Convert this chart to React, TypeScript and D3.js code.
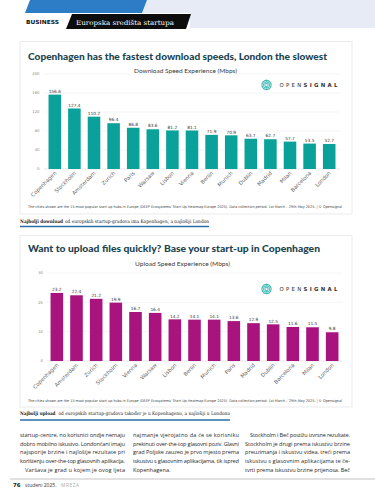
import React from 'react';
import * as d3 from 'd3';

const dlCities = ['Copenhagen', 'Stockholm', 'Amsterdam', 'Zurich', 'Paris', 'Warsaw', 'Lisbon', 'Vienna', 'Berlin', 'Munich', 'Dublin', 'Madrid', 'Milan', 'Barcelona', 'London'];
const dlValues = [156.6, 127.4, 110.2, 96.4, 86.8, 83.6, 81.2, 81.1, 71.9, 70.9, 63.7, 62.7, 57.7, 53.5, 52.7];
const dlTicks = [0, 40, 80, 120, 160, 200];

const ulCities = ['Copenhagen', 'Amsterdam', 'Zurich', 'Stockholm', 'Vienna', 'Warsaw', 'Lisbon', 'Berlin', 'Munich', 'Paris', 'Madrid', 'Dublin', 'Barcelona', 'Milan', 'London'];
const ulValues = [23.2, 22.4, 21.2, 19.9, 16.7, 16.4, 14.2, 14.1, 14.1, 13.6, 12.9, 12.5, 11.6, 11.5, 9.8];
const ulTicks = [0, 10, 20, 30];

const footnote = "The cities shown are the 15 most popular start-up hubs in Europe (DEEP Ecosystems' Start Up Heatmap Europe 2025). Data collection period: 1st March \u2013 29th May 2025. | \u00A9 Opensignal";

const col1 = [
  'startup-centre, no korisnici ondje nemaju',
  'dobro mobilno iskustvo. Londončani imaju',
  'najsporije brzine i najlošije rezultate pri',
  'korištenju over-the-top glasovnih aplikacija.',
  'Varšava je grad u kojem je ovog ljeta',
];
const col2 = [
  'najmanje vjerojatno da će se korisniku',
  'prekinuti over-the-top glasovni poziv. Glavni',
  'grad Poljske zauzeo je prvo mjesto prema',
  'iskustvu s glasovnim aplikacijama, tik ispred',
  'Kopenhagena.',
];
const col3 = [
  'Stockholm i Beč postižu izvrsne rezultate.',
  'Stockholm je drugi prema iskustvu brzine',
  'preuzimanja i iskustvu videa, treći prema',
  'iskustvu s glasovnim aplikacijama te če-',
  'tvrti prema iskustvu brzine prijenosa. Beč',
];

const TITLE = '#1c4451';
const SANS = "'DejaVu Sans', sans-serif";
const SERIF = "'DejaVu Serif', serif";

function Logo({ x, y }: { x: number; y: number }) {
  const arc = (r: number) =>
    d3.arc()({ innerRadius: r, outerRadius: r, startAngle: Math.PI * 0.8, endAngle: Math.PI * 3.2 }) as string;
  return (
    <g transform={`translate(${x},${y})`}>
      {[4.6, 3.1, 1.6].map((r, i) => (
        <path key={i} d={arc(r)} fill="none" stroke={i === 0 ? '#3fb8b3' : '#5cc4bf'} strokeWidth={1.1} />
      ))}
      <circle cx={0} cy={2.2} r={0.9} fill="#3fb8b3" />
      <text x={13} y={2} fontFamily={SANS} fontSize={5.4} fill="#333" textLength={58} lengthAdjust="spacing">
        <tspan>OPEN</tspan>
        <tspan fontWeight="bold">SIGNAL</tspan>
      </text>
    </g>
  );
}

type ChartProps = {
  top: number; bottom: number;
  title: string; titleW: number; titleY: number;
  subtitle: string; subX: number; subW: number; subY: number;
  cities: string[]; values: number[]; ticks: number[];
  y0: number; yTop: number; x0: number; x1: number;
  gridX0: number; gridX1: number; tickX: number;
  color: string; logoY: number; noteY: number;
};

function Chart(p: ChartProps) {
  const x = d3.scaleBand<string>().domain(p.cities).range([p.x0, p.x1]).paddingInner(0.36).paddingOuter(0.18);
  const y = d3.scaleLinear().domain([0, p.ticks[p.ticks.length - 1]]).range([p.y0, p.yTop]);
  return (
    <g>
      <rect x={20} y={p.top} width={332} height={p.bottom - p.top} fill="#fff" stroke="#e6e6e6" strokeWidth={0.8} />
      <text x={28} y={p.titleY} fontFamily="Lato, sans-serif" fontWeight={900} fontSize={9.6} fill={TITLE}
        textLength={p.titleW} lengthAdjust="spacingAndGlyphs">{p.title}</text>
      <text x={p.subX} y={p.subY} fontFamily="Lato, sans-serif" fontWeight={400} fontSize={5.3} fill="#3a3a3a"
        textLength={p.subW} lengthAdjust="spacingAndGlyphs">{p.subtitle}</text>
      {p.ticks.map((t) => (
        <g key={t}>
          <line x1={p.gridX0} x2={p.gridX1} y1={y(t)} y2={y(t)} stroke={t === 0 ? '#d9d9d9' : '#efefef'} strokeWidth={0.6} />
          <text x={p.tickX} y={y(t) + 1.4} textAnchor="end" fontFamily={SANS} fontSize={3.8} fill="#888">{t}</text>
        </g>
      ))}
      <Logo x={266.5} y={p.logoY} />
      {p.cities.map((c, i) => {
        const bx = x(c) as number;
        const cx = bx + x.bandwidth() / 2;
        return (
          <g key={c}>
            <rect x={bx} y={y(p.values[i])} width={x.bandwidth()} height={p.y0 - y(p.values[i])} fill={p.color} />
            <text x={cx} y={y(p.values[i]) - 1.8} textAnchor="middle" fontFamily={SANS} fontSize={4.3} fill="#333">
              {p.values[i].toFixed(1)}
            </text>
            <text transform={`translate(${cx + 2},${p.y0 + 4.5}) rotate(-45)`} textAnchor="end" fontFamily={SANS}
              fontSize={5.3} fill="#666">{c}</text>
          </g>
        );
      })}
      <text x={28} y={p.noteY} fontFamily={SANS} fontSize={3.6} fill="#444" textLength={314}
        lengthAdjust="spacingAndGlyphs">{footnote}</text>
    </g>
  );
}

function Column({ lines, x, w, y0, indent }: { lines: string[]; x: number; w: number; y0: number; indent: number[] }) {
  return (
    <g>
      {lines.map((l, i) => {
        const last = i === lines.length - 1 && l.length < 20;
        const ind = indent.includes(i) ? 5 : 0;
        return (
          <text key={i} x={x + ind} y={y0 + i * 8.7} fontFamily="'Open Sans', sans-serif" fontSize={5.6} fill="#2b2b2b"
            {...(last ? {} : { textLength: w - ind, lengthAdjust: 'spacing' })}>{l}</text>
        );
      })}
    </g>
  );
}

function Caption({ bold, rest, y, boldW, restX, restW }: { bold: string; rest: string; y: number; boldW: number; restX: number; restW: number }) {
  return (
    <g>
      <text x={20} y={y} fontFamily={SERIF} fontWeight="bold" fontSize={4.9} fill="#1a1a1a" textLength={boldW}
        lengthAdjust="spacingAndGlyphs">{bold}</text>
      <text x={restX} y={y} fontFamily={SERIF} fontSize={4.9} fill="#222" textLength={restW}
        lengthAdjust="spacingAndGlyphs">{rest}</text>
    </g>
  );
}

export default function App() {
  return (
    <svg width={375} height={499} viewBox="0 0 375 499" style={{ position: 'absolute', left: 0, top: 0, background: '#fff' }}>
      {/* header */}
      <polygon points="147,0 375,0 375,28 190,28 190,13 142,13" fill="#e6ebf5" />
      <polygon points="30,0 147,0 142,13 25,13" fill="#2c7cc6" />
      <polygon points="72,14 191,14 186,29 66,29" fill="#0d0d0d" />
      <text x={26} y={24} fontFamily={SANS} fontWeight="bold" fontSize={5.6} fill="#111" textLength={33}
        lengthAdjust="spacingAndGlyphs">BUSINESS</text>
      <text x={76} y={24.5} fontFamily={SERIF} fontSize={6.6} fill="#fff" textLength={98}
        lengthAdjust="spacingAndGlyphs">Europska središta startupa</text>

      <Chart top={41.5} bottom={214} title="Copenhagen has the fastest download speeds, London the slowest"
        titleW={299} titleY={59.5} subtitle="Download Speed Experience (Mbps)" subX={134} subW={103} subY={72.5}
        cities={dlCities} values={dlValues} ticks={dlTicks} y0={169} yTop={74} x0={45} x1={339}
        gridX0={44} gridX1={340} tickX={39.5} color="#0aa19a" logoY={85} noteY={207.5} />

      <Caption bold="Najbolji download" rest="od europskih startup-gradova ima Kopenhagen, a najlošiji London"
        y={223} boldW={43} restX={65} restW={144} />
      <line x1={20} x2={209} y1={226.5} y2={226.5} stroke="#2a6ea8" strokeWidth={1.4} />

      <Chart top={235.5} bottom={407} title="Want to upload files quickly? Base your start-up in Copenhagen"
        titleW={292} titleY={251.5} subtitle="Upload Speed Experience (Mbps)" subX={135} subW={95} subY={265.5}
        cities={ulCities} values={ulValues} ticks={ulTicks} y0={361} yTop={273} x0={47} x1={342}
        gridX0={47} gridX1={343} tickX={43} color="#a8137e" logoY={289} noteY={402} />

      <Caption bold="Najbolji upload" rest="od europskih startup-gradova također je u Kopenhagenu, a najlošiji u Londonu"
        y={415} boldW={35.5} restX={58.5} restW={171.5} />
      <line x1={20} x2={230} y1={420} y2={420} stroke="#2a6ea8" strokeWidth={1.4} />

      <Column lines={col1} x={20} w={105} y0={437} indent={[4]} />
      <Column lines={col2} x={133} w={106} y0={437} indent={[]} />
      <Column lines={col3} x={245} w={105} y0={437} indent={[0]} />

      <line x1={10} x2={375} y1={479} y2={479} stroke="#c4c4c4" strokeWidth={1.2} />
      <text x={13} y={487} fontFamily={SANS} fontWeight="bold" fontSize={5.4} fill="#222">76</text>
      <text x={25} y={487} fontFamily="'Open Sans', sans-serif" fontSize={5} fill="#333">studeni 2025.</text>
      <text x={61} y={487} fontFamily="'Open Sans', sans-serif" fontSize={4.8} fill="#aaa" letterSpacing={0.6}>MREŽA</text>
    </svg>
  );
}
